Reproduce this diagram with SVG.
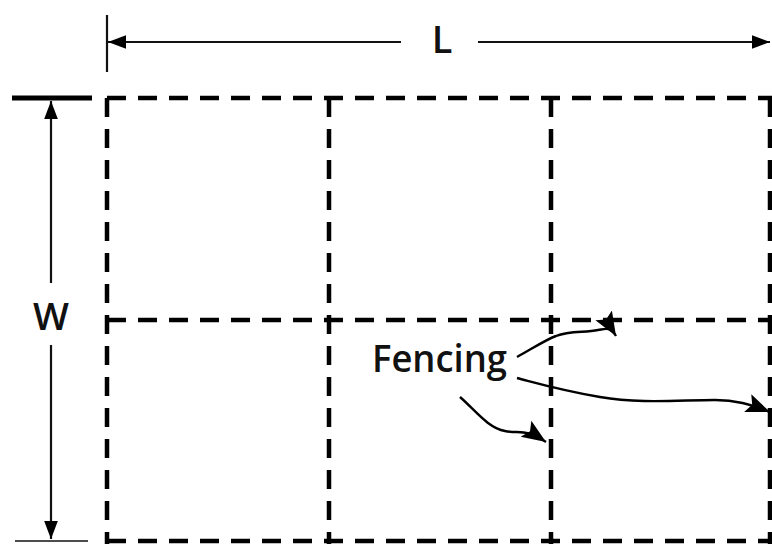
<svg xmlns="http://www.w3.org/2000/svg" width="772" height="544" viewBox="0 0 772 544">
<style>
.fence{stroke:#000;stroke-width:4.5;stroke-dasharray:19 12;fill:none}
.dim{stroke:#111;stroke-width:2.2;fill:none}
.lbl{font-family:"Open Sans","Liberation Sans",Arial,sans-serif;font-weight:600;fill:#111}
.conn{stroke:#000;stroke-width:2.4;fill:none}
</style>
<defs>
<marker id="dh" viewBox="0 0 10 10" refX="10" refY="5" markerWidth="18" markerHeight="18" orient="auto" markerUnits="userSpaceOnUse">
<path d="M0,1.2 L10,5 L0,8.8 z" fill="#000"/>
</marker>
<marker id="ch" viewBox="0 0 10 10" refX="10" refY="5" markerWidth="24" markerHeight="24" orient="auto" markerUnits="userSpaceOnUse">
<path d="M0,1 L10,5 L0,9 L2,5 z" fill="#000"/>
</marker>
</defs>
<rect width="772" height="544" fill="#fff"/>
<g id="grid">
<line class="fence" x1="107" y1="98" x2="772" y2="98"/>
<line class="fence" x1="107" y1="320" x2="772" y2="320"/>
<line class="fence" x1="107" y1="541" x2="772" y2="541"/>
<line class="fence" x1="107" y1="98" x2="107" y2="544"/>
<line class="fence" x1="329" y1="98" x2="329" y2="544"/>
<line class="fence" x1="551" y1="98" x2="551" y2="544"/>
<line class="fence" x1="770" y1="98" x2="770" y2="544"/>
</g>
<g id="dim-L">
<line class="dim" x1="107" y1="15" x2="107" y2="72"/>
<line class="dim" x1="401" y1="42" x2="108" y2="42" marker-end="url(#dh)"/>
<line class="dim" x1="478" y1="42" x2="770" y2="42" marker-end="url(#dh)"/>
<text class="lbl" x="442" y="53" font-size="38" text-anchor="middle">L</text>
</g>
<g id="dim-W">
<line x1="12" y1="98" x2="92" y2="98" stroke="#000" stroke-width="5"/>
<line class="dim" x1="51" y1="283" x2="51" y2="101" marker-end="url(#dh)"/>
<line class="dim" x1="51" y1="345" x2="51" y2="539" marker-end="url(#dh)"/>
<line x1="15" y1="541" x2="88" y2="541" stroke="#111" stroke-width="1.5"/>
<text class="lbl" x="51" y="330" font-size="38" text-anchor="middle">W</text>
</g>
<g id="fencing-label">
<text class="lbl" x="372" y="372" font-size="38" font-weight="500" textLength="135" lengthAdjust="spacingAndGlyphs">Fencing</text>
</g>
<g id="connectors">
<path class="conn" d="M517,357 C530,350 545,340 556,336 C570,330 585,333 598,330 C605,329 610,326 616,336" marker-end="url(#ch)"/>
<path class="conn" d="M517,378 C540,384 560,390 600,397 C640,404 680,400 715,400 C735,400 750,404 770,412" marker-end="url(#ch)"/>
<path class="conn" d="M460,397 C475,410 488,428 505,431 C520,434 525,428 546,442" marker-end="url(#ch)"/>
</g>
</svg>
